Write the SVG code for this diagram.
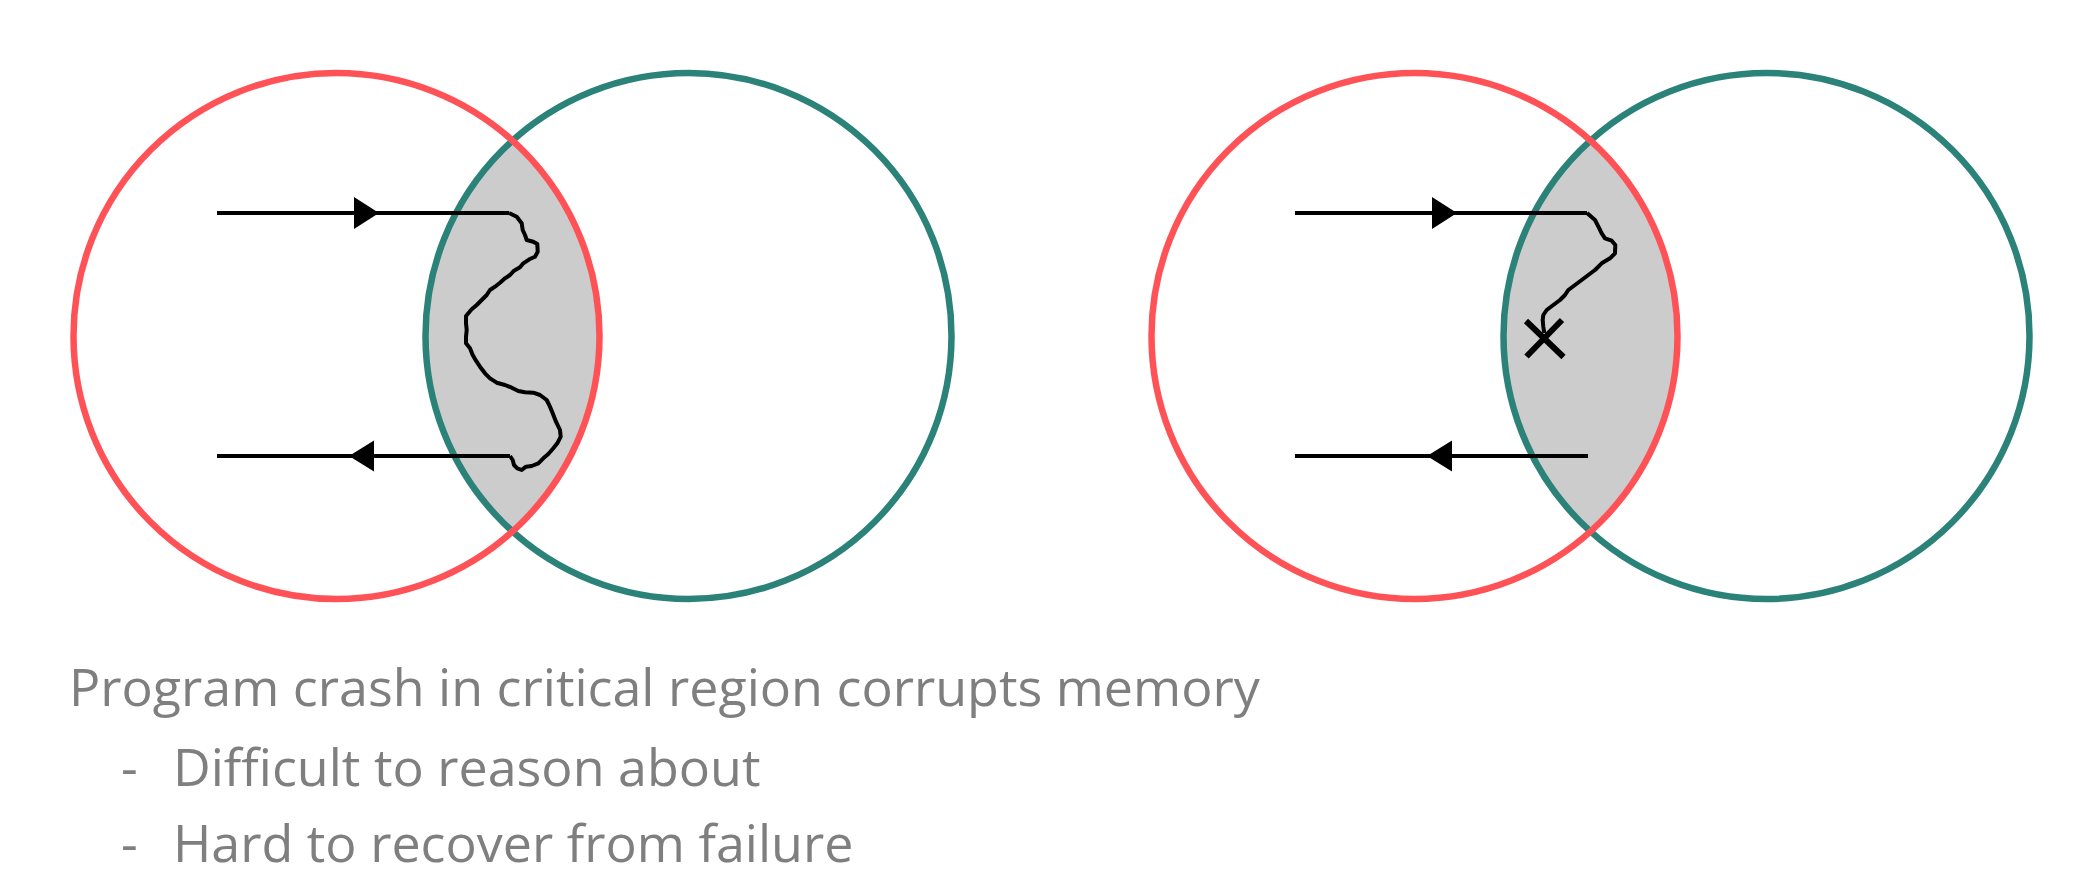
<svg xmlns="http://www.w3.org/2000/svg" width="2082" height="894" viewBox="0 0 2082 894">
<style>
.red{fill:none;stroke:#ff5257;stroke-width:6.5}
.teal{fill:none;stroke:#2a8278;stroke-width:6.5}
.lens{fill:#cccccc;stroke:none}
.wire{fill:none;stroke:#000;stroke-width:4;stroke-linejoin:round;stroke-linecap:butt}
.head{fill:#000;stroke:none}
.cross{stroke:#000;stroke-width:6;stroke-linecap:butt}
.txt{font-family:"Open Sans","Noto Sans",sans-serif;font-size:52px;fill:#7f7f7f}
</style>
<defs>
<path id="lensShape" d="M512.5 141 A263 263 0 0 1 512.5 531 A263 263 0 0 1 512.5 141 Z"/>
<path id="squiggleA" d="M509,213 L516.7,216.7 L521.7,223.3 L522.7,230 L525,235 L526.7,240 L533.3,241.7 L537.3,244 L537.7,251.7 L535,256.7 L529.3,259.3 L523.3,263.3 L520,267.3 L514,270.7 L510,275 L505,278.3 L500,282.7 L495,286.7 L490,290 L486.7,295 L481.7,300 L476.7,305 L471.7,309.3 L466,316 L466,323.3 L466.7,330 L466,336.7 L466,343.3 L470,348.3 L472.7,355 L476,360.7 L480,366.7 L485,373.3 L490,378.3 L496.7,382.7 L505,385 L511.7,387.7 L518.3,391 L525,392.3 L533.3,392.7 L540,395 L546.7,400 L550,406.7 L552.7,413.3 L556,421.7 L560,430 L560.7,436.7 L557.3,443.3 L553.3,448.3 L548.3,454 L543.3,458.3 L538.3,463.3 L531.7,466 L526,466.7 L521.7,470 L517.3,468.3 L514,465 L512.7,460 L510,456"/>
</defs>

<g id="left-diagram">
  <g id="left-lens"><use href="#lensShape" class="lens"/></g>
  <g id="left-teal-circle"><circle cx="688.5" cy="336" r="263" class="teal"/></g>
  <g id="left-red-circle"><circle cx="336.5" cy="336" r="263" class="red"/></g>
</g>

<g id="right-diagram" transform="translate(1078,0)">
  <g id="right-lens"><use href="#lensShape" class="lens"/></g>
  <g id="right-teal-circle"><circle cx="688.5" cy="336" r="263" class="teal"/></g>
  <g id="right-red-circle"><circle cx="336.5" cy="336" r="263" class="red"/></g>
</g>

<g id="connectors">
  <g id="left-flow">
    <line x1="217" y1="213" x2="509" y2="213" class="wire"/>
    <use href="#squiggleA" class="wire"/>
    <line x1="510" y1="456" x2="217" y2="456" class="wire"/>
    <polygon points="354,197 379,213 354,229" class="head"/>
    <polygon points="349,456 374,440.5 374,471.5" class="head"/>
  </g>
  <g id="right-flow">
    <line x1="1295" y1="213" x2="1587" y2="213" class="wire"/>
    <path d="M1587,213 L1595,220 L1599.3,228.3 L1601.7,233.3 L1605,238.3 L1611.7,240.7 L1615.3,245 L1615,253.3 L1610,258.3 L1601.7,263.3 L1595,270 L1588.3,275 L1581.7,280 L1575,285 L1568.3,290 L1565,295 L1560,300 L1553.3,305 L1546.7,310 L1543.3,315 L1542.7,320 L1543.3,326.7 L1544.3,333" class="wire"/>
    <line x1="1588" y1="456" x2="1295" y2="456" class="wire"/>
    <polygon points="1432,197 1457,213 1432,229" class="head"/>
    <polygon points="1427,456 1452,440.5 1452,471.5" class="head"/>
  </g>
  <g id="crash-mark">
    <line x1="1526" y1="321" x2="1563.5" y2="357" class="cross"/>
    <line x1="1562" y1="320" x2="1526.5" y2="356.5" class="cross"/>
  </g>
</g>

<g id="caption">
  <text x="69" y="706" class="txt">Program crash in critical region corrupts memory</text>
  <text x="121" y="786" class="txt">-</text>
  <text x="173" y="786" class="txt">Difficult to reason about</text>
  <text x="121" y="862" class="txt">-</text>
  <text x="173" y="862" class="txt">Hard to recover from failure</text>
</g>
</svg>
